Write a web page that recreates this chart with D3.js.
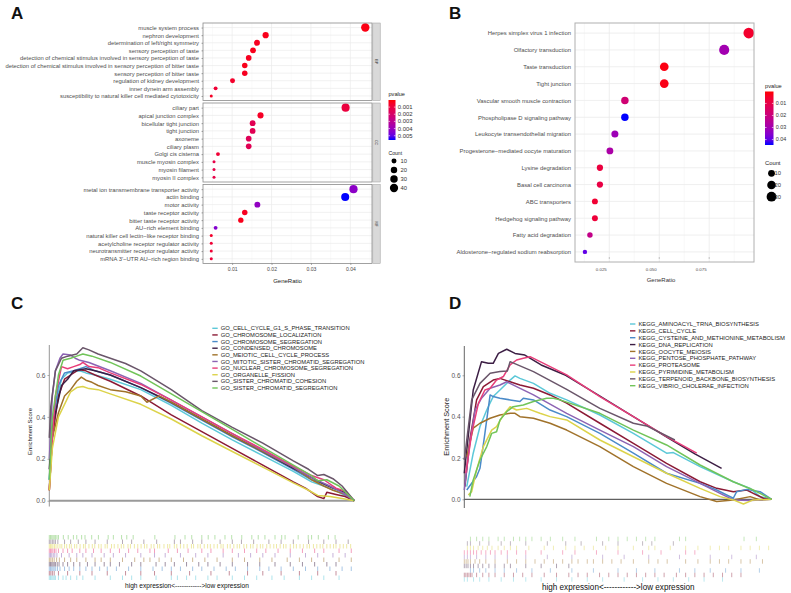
<!DOCTYPE html>
<html><head><meta charset="utf-8">
<script src="https://cdn.jsdelivr.net/npm/d3@7"></script>
<style>body{margin:0;background:#fff}svg{display:block}text{font-family:"Liberation Sans",Arial,Helvetica,sans-serif}</style>
</head><body><svg id="fig" width="791" height="593"></svg>
<script>
// ---------------- DATA ----------------
// Panel A (GO dotplot)
const bpTerms=["muscle system process","nephron development","determination of left/right symmetry","sensory perception of taste","detection of chemical stimulus involved in sensory perception of taste","detection of chemical stimulus involved in sensory perception of bitter taste","sensory perception of bitter taste","regulation of kidney development","inner dynein arm assembly","susceptibility to natural killer cell mediated cytotoxicity"];
const bpRatio=[0.0438,0.0185,0.0163,0.0153,0.0142,0.0132,0.0132,0.0101,0.0058,0.0047];
const bpCount=[42,18,16,15,14,13,13,10,6,5];
const bpP=[0.0002,0.0003,0.0004,0.0003,0.0004,0.0003,0.0004,0.0006,0.0008,0.0005];
const ccTerms=["ciliary part","apical junction complex","bicellular tight junction","tight junction","axoneme","ciliary plasm","Golgi cis cisterna","muscle myosin complex","myosin filament","myosin II complex"];
const ccRatio=[0.0388,0.0172,0.0152,0.0152,0.0142,0.0142,0.0064,0.0054,0.0054,0.0054];
const ccCount=[38,17,15,15,14,14,6,5,5,5];
const ccP=[0.0010,0.0005,0.0015,0.0015,0.0016,0.0015,0.0008,0.0012,0.0012,0.0012];
const mfTerms=["metal ion transmembrane transporter activity","actin binding","motor activity","taste receptor activity","bitter taste receptor activity","AU\u2212rich element binding","natural killer cell lectin\u2212like receptor binding","acetylcholine receptor regulator activity","neurotransmitter receptor regulator activity","mRNA 3\u2032\u2212UTR AU\u2212rich region binding"];
const mfRatio=[0.0408,0.0387,0.0164,0.0132,0.0122,0.0058,0.0047,0.0047,0.0047,0.0047];
const mfCount=[39,37,16,13,12,6,5,5,5,5];
const mfP=[0.0043,0.0056,0.0042,0.0004,0.0003,0.0045,0.0006,0.0008,0.0008,0.0009];
const aTicks=[0.01,0.02,0.03,0.04];
const aPTicks=[0.001,0.002,0.003,0.004,0.005];
const aCountTicks=[10,20,30,40];

// Panel B (KEGG dotplot)
const kTerms=["Herpes simplex virus 1 infection","Olfactory transduction","Taste transduction","Tight junction","Vascular smooth muscle contraction","Phospholipase D signaling pathway","Leukocyte transendothelial migration","Progesterone\u2212mediated oocyte maturation","Lysine degradation","Basal cell carcinoma","ABC transporters","Hedgehog signaling pathway","Fatty acid degradation","Aldosterone\u2212regulated sodium reabsorption"];
const kRatio=[0.0948,0.0825,0.0525,0.0525,0.0328,0.0328,0.0278,0.0253,0.0203,0.0203,0.0178,0.0178,0.0153,0.0128];
const kCount=[38,33,21,21,13,13,11,10,8,8,7,7,6,5];
const kP=[0.005,0.030,0.0015,0.002,0.018,0.0445,0.031,0.028,0.008,0.009,0.006,0.007,0.022,0.040];
const bTicks=[0.025,0.050,0.075];
const bPTicks=[0.01,0.02,0.03,0.04];
const bCountTicks=[10,20,30];

// Panel C (GO GSEA)
const goSets=["GO_CELL_CYCLE_G1_S_PHASE_TRANSITION","GO_CHROMOSOME_LOCALIZATION","GO_CHROMOSOME_SEGREGATION","GO_CONDENSED_CHROMOSOME","GO_MEIOTIC_CELL_CYCLE_PROCESS","GO_MITOTIC_SISTER_CHROMATID_SEGREGATION","GO_NUCLEAR_CHROMOSOME_SEGREGATION","GO_ORGANELLE_FISSION","GO_SISTER_CHROMATID_COHESION","GO_SISTER_CHROMATID_SEGREGATION"];
const setColors=["#5cc8d8","#8b1a35","#4b8bc9","#3c1e44","#a0722a","#8c63b3","#e83e7a","#dcd34a","#6a566a","#71c459"];
const goCurves=[
 [[0,0.1],[0.01,0.3],[0.02,0.45],[0.04,0.58],[0.06,0.61],[0.08,0.615],[0.1,0.62],[0.12,0.61],[0.15,0.6],[0.2,0.58],[0.3,0.53],[0.4,0.455],[0.5,0.37],[0.6,0.29],[0.7,0.215],[0.8,0.14],[0.86,0.09],[0.9,0.07],[0.95,0.04],[1,0]],
 [[0,0.05],[0.01,0.3],[0.03,0.5],[0.05,0.58],[0.07,0.6],[0.09,0.62],[0.1,0.625],[0.12,0.62],[0.15,0.6],[0.2,0.57],[0.3,0.5],[0.4,0.41],[0.5,0.33],[0.6,0.25],[0.7,0.17],[0.8,0.09],[0.84,0.06],[0.88,0.02],[0.9,0.01],[0.91,0.04],[0.94,0.03],[0.97,0.02],[1,0]],
 [[0,0.1],[0.01,0.35],[0.03,0.55],[0.05,0.61],[0.08,0.62],[0.1,0.63],[0.12,0.64],[0.15,0.62],[0.2,0.6],[0.3,0.54],[0.4,0.465],[0.5,0.385],[0.6,0.305],[0.7,0.23],[0.8,0.15],[0.86,0.1],[0.9,0.08],[0.95,0.05],[1,0]],
 [[0,0.15],[0.01,0.35],[0.025,0.45],[0.04,0.55],[0.06,0.58],[0.08,0.62],[0.1,0.625],[0.12,0.63],[0.15,0.62],[0.2,0.6],[0.3,0.54],[0.4,0.47],[0.5,0.39],[0.6,0.31],[0.7,0.235],[0.8,0.155],[0.86,0.11],[0.9,0.08],[0.93,0.06],[0.97,0.04],[1,0]],
 [[0,0.05],[0.01,0.3],[0.03,0.42],[0.05,0.5],[0.07,0.53],[0.09,0.57],[0.105,0.59],[0.12,0.575],[0.14,0.565],[0.16,0.55],[0.2,0.53],[0.25,0.52],[0.3,0.5],[0.32,0.47],[0.36,0.5],[0.4,0.47],[0.5,0.39],[0.6,0.31],[0.7,0.235],[0.8,0.16],[0.86,0.1],[0.9,0.07],[0.93,0.05],[0.97,0.03],[1,0]],
 [[0,0.2],[0.01,0.5],[0.02,0.62],[0.035,0.68],[0.045,0.7],[0.07,0.695],[0.085,0.68],[0.1,0.67],[0.13,0.66],[0.2,0.62],[0.3,0.56],[0.4,0.48],[0.5,0.4],[0.6,0.32],[0.7,0.24],[0.8,0.16],[0.86,0.11],[0.89,0.09],[0.92,0.07],[0.96,0.04],[1,0]],
 [[0,0.05],[0.01,0.3],[0.02,0.5],[0.04,0.64],[0.06,0.63],[0.08,0.64],[0.1,0.65],[0.11,0.66],[0.13,0.64],[0.16,0.635],[0.2,0.61],[0.3,0.555],[0.4,0.48],[0.5,0.4],[0.6,0.32],[0.7,0.245],[0.8,0.165],[0.86,0.12],[0.9,0.1],[0.94,0.06],[0.97,0.045],[1,0]],
 [[0,0.05],[0.01,0.25],[0.03,0.4],[0.05,0.46],[0.07,0.52],[0.09,0.54],[0.11,0.545],[0.13,0.535],[0.16,0.53],[0.2,0.51],[0.3,0.46],[0.4,0.39],[0.5,0.31],[0.6,0.235],[0.7,0.16],[0.8,0.085],[0.85,0.05],[0.88,0.025],[0.92,0.02],[0.96,0.01],[1,0]],
 [[0,0.3],[0.005,0.45],[0.02,0.62],[0.04,0.68],[0.06,0.69],[0.09,0.7],[0.11,0.73],[0.13,0.72],[0.16,0.7],[0.2,0.68],[0.25,0.655],[0.3,0.62],[0.4,0.53],[0.5,0.43],[0.6,0.35],[0.7,0.275],[0.8,0.19],[0.85,0.15],[0.88,0.12],[0.9,0.125],[0.93,0.105],[0.96,0.07],[1,0]],
 [[0,0.1],[0.01,0.4],[0.03,0.6],[0.045,0.67],[0.07,0.68],[0.09,0.69],[0.11,0.7],[0.14,0.69],[0.2,0.66],[0.3,0.595],[0.4,0.51],[0.5,0.425],[0.6,0.34],[0.7,0.255],[0.8,0.17],[0.86,0.12],[0.88,0.095],[0.91,0.1],[0.95,0.07],[1,0]]
];
const goHits=[
 [0,0.004,0.008,0.012,0.016,0.02,0.03,0.045,0.055,0.07,0.09,0.11,0.15,0.2,0.24,0.27,0.3,0.35,0.4,0.42,0.45,0.48,0.52,0.55,0.6,0.64,0.68,0.73,0.77,0.82,0.86,0.9,0.95],
 [0,0.005,0.01,0.016,0.03,0.06,0.1,0.14,0.19,0.25,0.3,0.345,0.4,0.46,0.53,0.59,0.65,0.7,0.76,0.82,0.88,0.94],
 [0,0.004,0.008,0.012,0.016,0.021,0.027,0.035,0.05,0.065,0.08,0.1,0.12,0.14,0.165,0.19,0.22,0.26,0.3,0.34,0.37,0.4,0.43,0.47,0.5,0.54,0.58,0.61,0.65,0.69,0.72,0.76,0.8,0.84,0.88,0.92,0.96,0.99],
 [0,0.004,0.008,0.012,0.016,0.02,0.026,0.032,0.045,0.06,0.08,0.1,0.125,0.15,0.18,0.2,0.23,0.27,0.3,0.35,0.38,0.41,0.45,0.49,0.52,0.56,0.6,0.65,0.69,0.74,0.79,0.83,0.87,0.91,0.94],
 [0,0.005,0.01,0.016,0.024,0.033,0.05,0.07,0.09,0.12,0.15,0.17,0.2,0.24,0.28,0.31,0.33,0.36,0.4,0.44,0.47,0.51,0.55,0.6,0.64,0.69,0.73,0.78,0.82,0.86,0.9,0.95,0.99],
 [0,0.004,0.008,0.013,0.018,0.025,0.04,0.065,0.09,0.11,0.14,0.18,0.21,0.25,0.3,0.345,0.38,0.43,0.48,0.52,0.57,0.62,0.66,0.7,0.74,0.79,0.84,0.88,0.93,0.97],
 [0,0.004,0.008,0.012,0.017,0.022,0.03,0.045,0.06,0.075,0.1,0.12,0.145,0.17,0.2,0.23,0.26,0.29,0.33,0.345,0.39,0.42,0.455,0.5,0.53,0.57,0.6,0.64,0.68,0.71,0.75,0.79,0.83,0.87,0.9,0.95,0.99],
 [0,0.004,0.008,0.012,0.017,0.022,0.028,0.035,0.041,0.05,0.057,0.066,0.072,0.083,0.09,0.101,0.112,0.118,0.13,0.141,0.149,0.162,0.17,0.183,0.19,0.204,0.213,0.225,0.236,0.244,0.258,0.266,0.279,0.29,0.301,0.312,0.32,0.334,0.343,0.355,0.362,0.376,0.388,0.395,0.41,0.418,0.43,0.441,0.452,0.466,0.473,0.487,0.495,0.508,0.519,0.528,0.54,0.551,0.563,0.57,0.584,0.593,0.605,0.616,0.624,0.638,0.647,0.66,0.668,0.681,0.692,0.7,0.713,0.724,0.736,0.745,0.757,0.768,0.776,0.79,0.801,0.81,0.822,0.833,0.845,0.853,0.866,0.877,0.888,0.897,0.91,0.921,0.932,0.94,0.953,0.964,0.975,0.988],
 [0,0.005,0.01,0.015,0.02,0.028,0.05,0.07,0.095,0.12,0.15,0.19,0.24,0.27,0.31,0.352,0.41,0.43,0.47,0.5,0.56,0.6,0.63,0.67,0.72,0.76,0.8,0.85,0.9,0.94,0.98],
 [0,0.004,0.008,0.012,0.016,0.02,0.025,0.03,0.046,0.062,0.079,0.09,0.106,0.117,0.139,0.161,0.193,0.21,0.237,0.254,0.275,0.346,0.412,0.445,0.467,0.5,0.521,0.543,0.576,0.598,0.631,0.664,0.685,0.707,0.74,0.762,0.773,0.816,0.849,0.86,0.882,0.915,0.937]
];
const esTicks=[0,0.2,0.4,0.6];

// Panel D (KEGG GSEA)
const keggSets=["KEGG_AMINOACYL_TRNA_BIOSYNTHESIS","KEGG_CELL_CYCLE","KEGG_CYSTEINE_AND_METHIONINE_METABOLISM","KEGG_DNA_REPLICATION","KEGG_OOCYTE_MEIOSIS","KEGG_PENTOSE_PHOSPHATE_PATHWAY","KEGG_PROTEASOME","KEGG_PYRIMIDINE_METABOLISM","KEGG_TERPENOID_BACKBONE_BIOSYNTHESIS","KEGG_VIBRIO_CHOLERAE_INFECTION"];
const keggCurves=[
 [[0.008,0.061],[0.029,0.223],[0.051,0.352],[0.073,0.432],[0.094,0.497],[0.116,0.529],[0.149,0.577],[0.165,0.597],[0.181,0.585],[0.225,0.561],[0.279,0.513],[0.333,0.481],[0.441,0.408],[0.55,0.319],[0.658,0.223],[0.68,0.226],[0.767,0.158],[0.875,0.085],[0.93,0.053],[0.962,0.013],[1,0]],
 [[0.002,0.061],[0.018,0.287],[0.04,0.481],[0.062,0.545],[0.094,0.577],[0.116,0.585],[0.149,0.569],[0.181,0.553],[0.225,0.537],[0.279,0.505],[0.333,0.465],[0.441,0.368],[0.55,0.271],[0.658,0.174],[0.767,0.085],[0.821,0.053],[0.875,0.037],[0.919,0.045],[0.94,0.029],[0.973,0.005],[1,0]],
 [[0.008,0.045],[0.04,0.11],[0.051,0.15],[0.067,0.319],[0.084,0.505],[0.094,0.497],[0.116,0.489],[0.149,0.481],[0.181,0.473],[0.192,0.489],[0.225,0.481],[0.279,0.432],[0.333,0.4],[0.441,0.319],[0.55,0.223],[0.658,0.126],[0.767,0.077],[0.821,0.045],[0.875,0.005],[0.886,0.037],[0.919,0.048],[0.962,0.037],[1,0]],
 [[0,0.126],[0.029,0.529],[0.056,0.666],[0.078,0.658],[0.094,0.658],[0.111,0.706],[0.138,0.726],[0.165,0.706],[0.197,0.698],[0.25,0.65],[0.33,0.6],[0.44,0.5],[0.55,0.4],[0.66,0.3],[0.75,0.22],[0.837,0.15]],
 [[0.008,0.206],[0.029,0.344],[0.051,0.368],[0.084,0.392],[0.116,0.408],[0.149,0.416],[0.165,0.416],[0.181,0.4],[0.225,0.392],[0.279,0.368],[0.333,0.335],[0.441,0.255],[0.55,0.158],[0.658,0.077],[0.767,0.013],[0.821,-0.011],[0.875,-0.003],[0.93,0.013],[0.962,-0.003],[1,0]],
 [[0,0.045],[0.018,0.271],[0.035,0.432],[0.056,0.489],[0.084,0.537],[0.116,0.553],[0.138,0.569],[0.17,0.545],[0.225,0.505],[0.333,0.416],[0.441,0.335],[0.55,0.255],[0.658,0.158],[0.767,0.077],[0.832,0.029],[0.875,-0.003],[0.93,-0.006],[0.962,-0.003],[1,0]],
 [[0.005,0.126],[0.024,0.319],[0.046,0.465],[0.067,0.529],[0.084,0.537],[0.105,0.577],[0.127,0.594],[0.149,0.65],[0.17,0.674],[0.192,0.682],[0.214,0.69],[0.333,0.602],[0.441,0.497],[0.55,0.4],[0.658,0.303],[0.756,0.223]],
 [[0.013,0.021],[0.024,0.037],[0.04,0.142],[0.062,0.255],[0.089,0.335],[0.105,0.352],[0.127,0.408],[0.149,0.448],[0.17,0.432],[0.203,0.44],[0.246,0.416],[0.279,0.4],[0.333,0.384],[0.441,0.287],[0.55,0.206],[0.658,0.126],[0.767,0.053],[0.832,0.013],[0.875,-0.003],[0.908,-0.023],[0.94,-0.003],[1,0]],
 [[0,0.19],[0.024,0.481],[0.051,0.561],[0.084,0.61],[0.116,0.618],[0.14,0.621],[0.149,0.666],[0.225,0.618],[0.333,0.532],[0.441,0.44],[0.55,0.368],[0.593,0.355],[0.685,0.287]],
 [[0.018,0.013],[0.029,0.094],[0.051,0.19],[0.073,0.255],[0.089,0.319],[0.105,0.327],[0.116,0.384],[0.138,0.424],[0.159,0.448],[0.192,0.456],[0.225,0.473],[0.268,0.489],[0.29,0.489],[0.311,0.481],[0.441,0.416],[0.55,0.335],[0.658,0.263],[0.767,0.166],[0.875,0.085],[0.94,0.045],[0.962,0.029],[1,0]]
];
const keggHits=[
 [0,0.01,0.03,0.05,0.08,0.12,0.16,0.2,0.25,0.3,0.35,0.4,0.45,0.52,0.58,0.63,0.68,0.73,0.78,0.84],
 [0,0.005,0.01,0.015,0.02,0.025,0.04,0.06,0.08,0.1,0.13,0.16,0.19,0.22,0.26,0.3,0.34,0.37,0.4,0.44,0.47,0.5,0.53,0.56,0.59,0.62,0.65,0.69,0.72,0.75,0.78,0.81,0.84,0.87,0.9],
 [0.02,0.03,0.05,0.07,0.1,0.13,0.17,0.22,0.28,0.35,0.42,0.5,0.56,0.62,0.7,0.75,0.8,0.85,0.9,0.96],
 [0,0.006,0.012,0.02,0.03,0.045,0.06,0.08,0.1,0.13,0.15,0.2,0.25,0.3,0.34],
 [0,0.006,0.012,0.02,0.035,0.05,0.07,0.1,0.14,0.17,0.2,0.23,0.26,0.29,0.32,0.35,0.37,0.4,0.42,0.45,0.48,0.51,0.55,0.6,0.63,0.66,0.72,0.76,0.8,0.83,0.86,0.9,0.93,0.97],
 [0,0.01,0.02,0.04,0.07,0.1,0.14,0.2,0.27,0.35,0.45,0.52,0.6,0.7,0.8,0.87,0.95],
 [0,0.01,0.02,0.03,0.04,0.055,0.07,0.085,0.1,0.12,0.14,0.17,0.2,0.25,0.32,0.36,0.43,0.5,0.58,0.64,0.72,0.75],
 [0.01,0.02,0.03,0.045,0.06,0.075,0.09,0.11,0.13,0.15,0.17,0.21,0.26,0.29,0.33,0.36,0.39,0.42,0.46,0.5,0.55,0.6,0.62,0.67,0.72,0.76,0.8,0.83,0.86,0.9,0.93,0.96,0.99],
 [0.01,0.02,0.05,0.08,0.12,0.15,0.2,0.27,0.33,0.38,0.45,0.5,0.58,0.61,0.68],
 [0.02,0.04,0.06,0.08,0.11,0.13,0.16,0.18,0.2,0.22,0.25,0.28,0.32,0.36,0.43,0.47,0.5,0.53,0.56,0.59,0.62,0.7,0.72,0.91,0.95]
];
const rugCaption="high expression<------------>low expression";

// ---------------- DRAWING ----------------
const svg=d3.select("#fig");
svg.append("rect").attr("width",791).attr("height",593).attr("fill","#fff");
const txtCol="#4d4d4d", gridCol="#ebebeb", borderCol="#8a8a8a";
const pLab=d3.interpolateLab("#ff0000","#0000ff");

function panelLetter(t,x,y){svg.append("text").attr("x",x).attr("y",y).attr("font-size",17).attr("font-weight","bold").attr("fill","#111").text(t);}
panelLetter("A",11,19);panelLetter("B",449,19);panelLetter("C",11,309);panelLetter("D",449,309);

function sizeScale(counts,rmin,rmax){
  const lo=d3.min(counts),hi=d3.max(counts);
  const s=d3.scaleSqrt().domain([0,hi-lo]).range([0,rmax-rmin]);
  return c=>rmin+s(Math.max(0,c-lo));
}
function colorbar(id,x,y0,y1,w,dom,ticks,fmt,title,fs,lfs){
  const defs=svg.append("defs");
  const gr=defs.append("linearGradient").attr("id",id).attr("x1",0).attr("x2",0).attr("y1",0).attr("y2",1);
  d3.range(0,1.0001,0.1).forEach(t=>gr.append("stop").attr("offset",t).attr("stop-color",pLab(t)));
  svg.append("text").attr("x",x).attr("y",y0-4).attr("font-size",fs).attr("fill","#222").text(title);
  svg.append("rect").attr("x",x).attr("y",y0).attr("width",w).attr("height",y1-y0).attr("fill",`url(#${id})`);
  const s=d3.scaleLinear().domain(dom).range([y0,y1]);
  const g=svg.append("g");
  ticks.forEach(v=>{
    g.append("line").attr("x1",x).attr("x2",x+1.6).attr("y1",s(v)).attr("y2",s(v)).attr("stroke","#fff").attr("stroke-width",0.6);
    g.append("line").attr("x1",x+w-1.6).attr("x2",x+w).attr("y1",s(v)).attr("y2",s(v)).attr("stroke","#fff").attr("stroke-width",0.6);
    g.append("text").attr("x",x+w+2.3).attr("y",s(v)).attr("dy","0.35em").attr("font-size",lfs).attr("fill","#333").text(fmt(v));
  });
}

// ---- Panel A ----
(function(){
  const L=203,R=372;
  const xA=d3.scaleLinear().domain([0.0026,0.0455]).range([L,R]);
  const rA=sizeScale(bpCount.concat(ccCount,mfCount),1.5,4.2);
  const col=d3.scaleSequential(pLab).domain([0.00001,0.0056]);
  const facets=[
    {strip:"BP",terms:bpTerms,ratio:bpRatio,count:bpCount,p:bpP,top:23,bottom:100.5},
    {strip:"CC",terms:ccTerms,ratio:ccRatio,count:ccCount,p:ccP,top:103,bottom:182},
    {strip:"MF",terms:mfTerms,ratio:mfRatio,count:mfCount,p:mfP,top:184.5,bottom:263.5}
  ];
  const minor=[0.005,0.015,0.025,0.035,0.045];
  facets.forEach(f=>{
    const y=d3.scalePoint().domain(f.terms).range([f.top,f.bottom]).padding(0.6);
    const g=svg.append("g");
    g.append("rect").attr("x",L).attr("y",f.top).attr("width",R-L).attr("height",f.bottom-f.top).attr("fill","#fff");
    g.selectAll(".mn").data(minor.filter(v=>xA(v)<R)).enter().append("line").attr("x1",d=>xA(d)).attr("x2",d=>xA(d)).attr("y1",f.top).attr("y2",f.bottom).attr("stroke","#f4f4f4").attr("stroke-width",0.5);
    g.selectAll(".mj").data(aTicks).enter().append("line").attr("x1",d=>xA(d)).attr("x2",d=>xA(d)).attr("y1",f.top).attr("y2",f.bottom).attr("stroke",gridCol).attr("stroke-width",0.7);
    g.selectAll(".hg").data(f.terms).enter().append("line").attr("x1",L).attr("x2",R).attr("y1",d=>y(d)).attr("y2",d=>y(d)).attr("stroke",gridCol).attr("stroke-width",0.7);
    g.selectAll("circle").data(f.terms).enter().append("circle")
      .attr("cx",(d,i)=>xA(f.ratio[i])).attr("cy",d=>y(d)).attr("r",(d,i)=>rA(f.count[i])).attr("fill",(d,i)=>col(f.p[i]));
    g.append("rect").attr("x",L).attr("y",f.top).attr("width",R-L).attr("height",f.bottom-f.top).attr("fill","none").attr("stroke",borderCol).attr("stroke-width",0.8);
    const ax=g.append("g").attr("transform",`translate(${L},0)`).call(d3.axisLeft(y).tickSize(1.5).tickPadding(2.5));
    ax.select(".domain").remove();
    ax.selectAll("line").attr("stroke","#555").attr("stroke-width",0.5);
    ax.selectAll("text").attr("font-size",5.85).attr("fill",txtCol).attr("font-family",'"Liberation Sans",Arial,sans-serif');
    g.append("rect").attr("x",R+0.8).attr("y",f.top).attr("width",7.4).attr("height",f.bottom-f.top).attr("fill","#d9d9d9").attr("stroke","#9a9a9a").attr("stroke-width",0.5);
    g.append("text").attr("transform",`translate(${R+4.5},${(f.top+f.bottom)/2}) rotate(90)`).attr("text-anchor","middle").attr("dy","0.35em").attr("font-size",3.6).attr("fill","#333").text(f.strip);
  });
  const axb=svg.append("g").attr("transform","translate(0,263.5)").call(d3.axisBottom(xA).tickValues(aTicks).tickSize(1.5).tickPadding(2).tickFormat(d3.format(".2f")));
  axb.select(".domain").remove();
  axb.selectAll("line").attr("stroke","#555").attr("stroke-width",0.5);
  axb.selectAll("text").attr("font-size",5.1).attr("fill",txtCol);
  svg.append("text").attr("x",(L+R)/2).attr("y",283).attr("text-anchor","middle").attr("font-size",6).attr("fill","#222").text("GeneRatio");
  colorbar("gA",388.5,100,140,7,[0.00001,0.0056],aPTicks,d3.format(".3f"),"pvalue",5.6,5.9);
  svg.append("text").attr("x",388.5).attr("y",155).attr("font-size",5.1).attr("fill","#222").text("Count");
  const ly=d3.scalePoint().domain(aCountTicks).range([161,188]);
  aCountTicks.forEach(c=>{
    svg.append("circle").attr("cx",394).attr("cy",ly(c)).attr("r",rA(c)).attr("fill","#000");
    svg.append("text").attr("x",400.5).attr("y",ly(c)).attr("dy","0.35em").attr("font-size",5.8).attr("fill","#333").text(c);
  });
})();

// ---- Panel B ----
(function(){
  const L=575,R=754,T=23,B=262;
  const xB=d3.scaleLinear().domain([0.025,0.075]).range([609.3,709.2]);
  const y=d3.scalePoint().domain(kTerms).range([T,B]).padding(0.6);
  const rB=sizeScale(kCount,2.2,5.3);
  const col=d3.scaleSequential(pLab).domain([0.0001,0.0445]);
  const g=svg.append("g");
  g.append("rect").attr("x",L).attr("y",T).attr("width",R-L).attr("height",B-T).attr("fill","#fff");
  const minor=[0.0125,0.0375,0.0625,0.0875];
  g.selectAll(".mn").data(minor).enter().append("line").attr("x1",d=>xB(d)).attr("x2",d=>xB(d)).attr("y1",T).attr("y2",B).attr("stroke","#f3f3f3").attr("stroke-width",0.6);
  g.selectAll(".mj").data(bTicks).enter().append("line").attr("x1",d=>xB(d)).attr("x2",d=>xB(d)).attr("y1",T).attr("y2",B).attr("stroke",gridCol).attr("stroke-width",0.8);
  g.selectAll(".hg").data(kTerms).enter().append("line").attr("x1",L).attr("x2",R).attr("y1",d=>y(d)).attr("y2",d=>y(d)).attr("stroke",gridCol).attr("stroke-width",0.8);
  g.selectAll("circle").data(kTerms).enter().append("circle").attr("cx",(d,i)=>xB(kRatio[i])).attr("cy",d=>y(d)).attr("r",(d,i)=>rB(kCount[i])).attr("fill",(d,i)=>col(kP[i]));
  g.selectAll(".tk").data(bTicks).enter().append("line").attr("x1",d=>xB(d)).attr("x2",d=>xB(d)).attr("y1",B-4.5).attr("y2",B-3.5).attr("stroke","#777").attr("stroke-width",0.8);
  g.append("rect").attr("x",L).attr("y",T).attr("width",R-L).attr("height",B-T).attr("fill","none").attr("stroke","#b0b0b0").attr("stroke-width",1);
  const ax=g.append("g").attr("transform",`translate(${L},0)`).call(d3.axisLeft(y).tickSize(0).tickPadding(4));
  ax.select(".domain").remove();
  ax.selectAll("text").attr("font-size",5.9).attr("fill",txtCol);
  const axb=svg.append("g").attr("transform",`translate(0,${B})`).call(d3.axisBottom(xB).tickValues(bTicks).tickSize(0).tickPadding(6).tickFormat(d3.format(".3f")));
  axb.select(".domain").remove();
  axb.selectAll("text").attr("font-size",4.4).attr("fill",txtCol).attr("dx",-8.5);
  svg.append("text").attr("x",661).attr("y",281.5).attr("text-anchor","middle").attr("font-size",6).attr("fill","#333").text("GeneRatio");
  colorbar("gB",765,91.5,145,8.5,[0.0001,0.0445],bPTicks,d3.format(".2f"),"pvalue",5.7,5.4);
  svg.append("text").attr("x",765).attr("y",164.5).attr("font-size",5.8).attr("fill","#222").text("Count");
  const ly=d3.scalePoint().domain(bCountTicks).range([173.3,196.7]);
  bCountTicks.forEach(c=>{
    svg.append("circle").attr("cx",771.5).attr("cy",ly(c)).attr("r",rB(c)).attr("fill","#000");
    svg.append("text").attr("x",774.5).attr("y",ly(c)).attr("dy","0.35em").attr("font-size",5.8).attr("fill","#333").text(c);
  });
})();

// ---- GSEA panels ----
function gsea(o){
  const x=d3.scaleLinear().domain([0,1]).range([o.L,o.R]);
  const y=d3.scaleLinear().domain([0,0.6]).range([o.y0,o.y6]);
  const g=svg.append("g");
  g.append("line").attr("x1",o.L).attr("x2",o.R).attr("y1",y(0)).attr("y2",y(0)).attr("stroke",o.zeroCol).attr("stroke-width",o.zeroW);
  const ax=g.append("g").attr("transform",`translate(${o.L},0)`).call(d3.axisLeft(y).tickValues(esTicks).tickSize(1.8).tickPadding(2).tickFormat(d3.format(".1f")));
  ax.select(".domain").remove();
  ax.selectAll("line").attr("stroke","#777").attr("stroke-width",0.6);
  ax.selectAll("text").attr("font-size",o.tickFs).attr("fill","#555");
  g.append("line").attr("x1",o.L).attr("x2",o.L).attr("y1",o.axTop).attr("y2",o.axBot).attr("stroke",o.axCol).attr("stroke-width",0.9);
  g.append("text").attr("transform",`translate(${o.labX},${o.labY}) rotate(-90)`).attr("text-anchor","middle").attr("font-size",o.labFs).attr("fill","#222").text("Enrichment Score");
  const line=d3.line().x(d=>x(d[0])).y(d=>y(d[1]));
  o.curves.forEach((c,i)=>{
    g.append("path").attr("d",line(c)).attr("fill","none").attr("stroke",setColors[i]).attr("stroke-width",1.5).attr("stroke-linejoin","round");
  });
  const ly=d3.scalePoint().domain(o.sets).range([o.legY0,o.legY1]);
  o.sets.forEach((s,i)=>{
    g.append("line").attr("x1",o.legX).attr("x2",o.legX+5.4).attr("y1",ly(s)).attr("y2",ly(s)).attr("stroke",setColors[i]).attr("stroke-width",1.4);
    g.append("text").attr("x",o.legX+8.4).attr("y",ly(s)).attr("dy","0.36em").attr("font-size",o.legFs).attr("fill","#222").text(s);
  });
  const n=o.sets.length;
  const ry=d3.scaleBand().domain(d3.range(n)).range([o.rugT,o.rugB]);
  o.hits.forEach((h,i)=>{
    const row=n-1-i;
    g.selectAll(null).data(h).enter().append("line")
      .attr("x1",d=>x(d)).attr("x2",d=>x(d)).attr("y1",ry(row)).attr("y2",ry(row)+ry.bandwidth())
      .attr("stroke",setColors[i]).attr("stroke-width",0.9).attr("stroke-opacity",o.rugOp);
  });
  g.append("text").attr("x",o.capX).attr("y",o.capY).attr("text-anchor","middle").attr("font-size",o.capFs).attr("fill","#111").text(rugCaption);
}
gsea({L:49.3,R:354.3,y0:500.7,y6:375,axTop:345,axBot:506.5,axCol:"#8a8a8a",zeroCol:"#9a9a9a",zeroW:2,
  tickFs:6.6,labX:31.5,labY:431.5,labFs:5.9,curves:goCurves,sets:goSets,hits:goHits,
  legX:212.3,legY0:328.3,legY1:388,legFs:5.82,rugT:535,rugB:580,rugOp:0.55,capX:187,capY:587.5,capFs:6.6});
gsea({L:464.3,R:771.7,y0:499.3,y6:375.3,axTop:346,axBot:508,axCol:"#555",zeroCol:"#222",zeroW:0.9,
  tickFs:6.5,labX:448.5,labY:426.7,labFs:7.3,curves:keggCurves,sets:keggSets,hits:keggHits,
  legX:630,legY0:324,legY1:385.7,legFs:5.87,rugT:536.7,rugB:581.7,rugOp:0.45,capX:618.3,capY:589.5,capFs:8.15});
</script></body></html>
